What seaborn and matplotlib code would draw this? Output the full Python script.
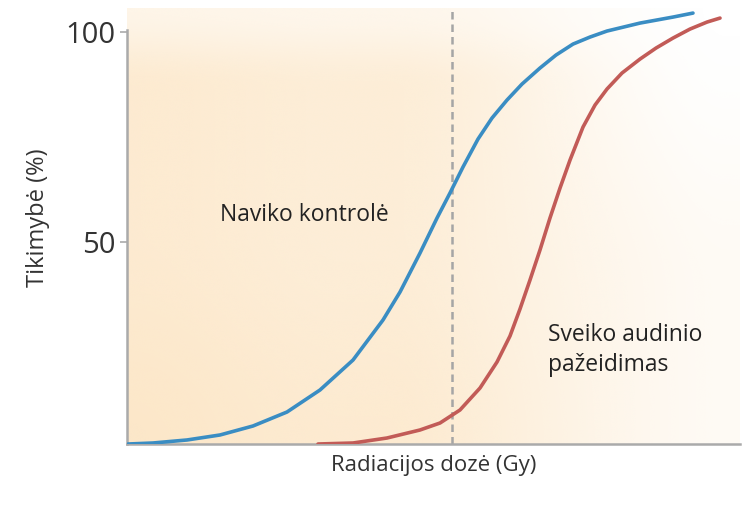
import numpy as np
import pandas as pd
import matplotlib
matplotlib.use("Agg")
import matplotlib.pyplot as plt
import seaborn as sns

# ---- data (arbitrary dose units 0-100, probability %) ----
tumor_dose = [0.16, 4.24, 9.79, 15.17, 20.55, 26.10, 31.48, 36.87, 41.76, 44.54, 47.80, 50.57,
              52.69, 54.81, 57.26, 59.54, 61.99, 64.44, 67.37, 69.98, 72.76, 75.53, 78.30,
              83.69, 89.07, 92.33]
tumor_prob = [1.90, 2.14, 2.86, 4.05, 6.19, 9.52, 14.76, 21.90, 31.43, 38.10, 47.38, 55.71,
              61.67, 67.86, 74.52, 79.52, 83.81, 87.62, 91.43, 94.52, 97.14, 98.81, 100.24,
              102.14, 103.57, 104.52]
normal_dose = [31.16, 36.87, 42.41, 47.80, 51.06, 54.32, 57.59, 60.36, 62.48, 64.11, 65.74,
               67.37, 69.00, 70.64, 72.27, 74.39, 76.35, 78.30, 80.75, 83.69, 86.30, 89.07,
               91.84, 94.62, 96.74]
normal_prob = [1.90, 2.14, 3.33, 5.24, 6.90, 10.00, 15.24, 21.43, 27.62, 34.05, 40.95,
               48.10, 55.71, 62.86, 69.52, 77.38, 82.62, 86.43, 90.24, 93.57, 96.19, 98.57,
               100.71, 102.38, 103.33]
dose_marker = 53.0
y_ticks = [50, 100]
y_tick_labels = ["50", "100"]
label_tumor = "Naviko kontrolė"
label_normal = "Sveiko audinio\npažeidimas"
x_title = "Radiacijos dozė (Gy)"
y_title = "Tikimybė (%)"

sns.set_style("white")
plt.rcParams["font.family"] = ["Open Sans", "DejaVu Sans"]

fig = plt.figure(figsize=(7.48, 5.11), dpi=100)
ax = fig.add_axes([0.1698, 0.1311, 0.8195, 0.853])
XMIN, XMAX, YMIN, YMAX = 0, 100, 1.9, 105.7

# background gradient
nx, ny = 300, 200
xn = np.linspace(0, 1, nx)[None, :]
yn = np.linspace(0, 1, ny)[:, None]  # 0 bottom, 1 top


def smooth(a, b, t):
    s = np.clip((t - a) / (b - a), 0, 1)
    return s * s * (3 - 2 * s)


ax_x = 0.62 + 0.10 * (1 - smooth(0.0, 0.35, xn))
ax_x = ax_x * (1 - smooth(0.42, 0.98, xn))
ax_y = (1 - 0.5 * smooth(0.82, 1.0, yn)) * (0.9 + 0.15 * (1 - smooth(0.0, 0.5, yn)))
alpha = ax_x * ax_y + 0.15 * (1 - smooth(0.35, 1.0, yn)) * smooth(0.5, 0.9, xn)
alpha = np.clip(alpha, 0, 1)
img = np.zeros((ny, nx, 4))
img[..., 0] = 252 / 255
img[..., 1] = 224 / 255
img[..., 2] = 184 / 255
img[..., 3] = alpha
ax.imshow(img, extent=[XMIN, XMAX, YMIN, YMAX], origin="lower", aspect="auto",
          interpolation="bicubic", zorder=0)

df_t = pd.DataFrame({"dose": tumor_dose, "prob": tumor_prob})
df_n = pd.DataFrame({"dose": normal_dose, "prob": normal_prob})

sns.lineplot(data=df_t, x="dose", y="prob", ax=ax, color="#3a8dc3", lw=2.6,
             sort=False, zorder=3, solid_capstyle="round", solid_joinstyle="round")
sns.lineplot(data=df_n, x="dose", y="prob", ax=ax, color="#c25b57", lw=2.6,
             sort=False, zorder=3, solid_capstyle="round", solid_joinstyle="round")

ax.axvline(dose_marker, ymin=0, ymax=1, color="#a5a5a5", lw=1.8, ls=(0, (3, 2)), zorder=2)

ax.set_xlim(XMIN, XMAX)
ax.set_ylim(YMIN, YMAX)
ax.set_xticks([])
ax.set_yticks(y_ticks)
ax.set_yticklabels(y_tick_labels, fontsize=21, color="#333333")
ax.tick_params(axis="y", length=5, width=1.2, color="#aaaaaa", pad=3, left=True)

for s in ["top", "right"]:
    ax.spines[s].set_visible(False)
for s in ["left", "bottom"]:
    ax.spines[s].set_color("#aaaaaa")
    ax.spines[s].set_linewidth(1.8)
ax.spines["left"].set_bounds(YMIN, 100.5)

ax.set_xlabel(x_title, fontsize=16, color="#333333", labelpad=8)
ax.set_ylabel(y_title, fontsize=17, color="#333333")
ax.yaxis.set_label_coords(-0.125, 0.52)

ax.text(15.2, 56.4, label_tumor, fontsize=16.5, color="#222222", va="center", ha="left")
ax.text(68.6, 24.3, label_normal, fontsize=16.5, color="#222222", va="center", ha="left",
        linespacing=1.3)

ax.grid(False)
fig.savefig("out.png", dpi=100)
